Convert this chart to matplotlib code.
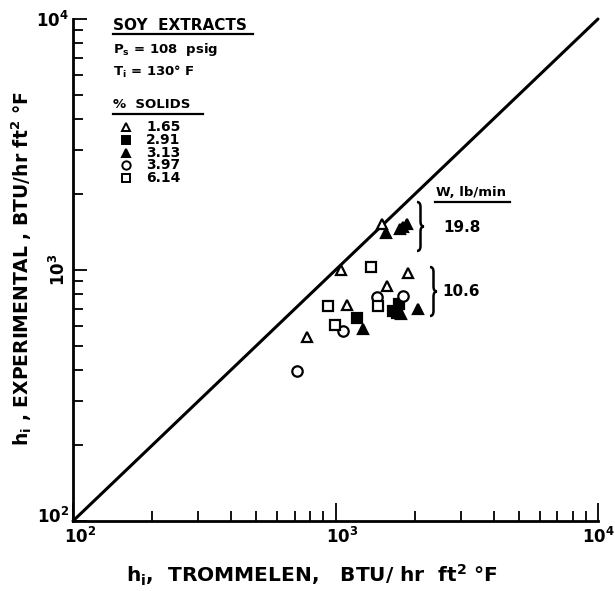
import matplotlib
matplotlib.use("Agg")
import matplotlib.pyplot as plt
import matplotlib.transforms as mtransforms
from matplotlib.path import Path
from matplotlib.patches import PathPatch

# % solids series (x = Trommelen, y = experimental)
solids_labels = ['1.65', '2.91', '3.13', '3.97', '6.14']
markers = ['^', 's', '^', 'o', 's']
filled = [False, True, True, False, False]

x_165 = [1500, 1761, 1046, 1894, 1567, 1104, 777]
y_165 = [1525, 1453, 1000, 976, 861, 725, 539]
x_291 = [1746, 1661, 1710, 1211]
y_291 = [732, 688, 672, 642]
x_313 = [1557, 1800, 1870, 1777, 2067, 1276]
y_313 = [1400, 1490, 1520, 668, 697, 580]
x_397 = [1445, 1808, 1071, 711]
y_397 = [780, 789, 571, 397]
x_614 = [1366, 1448, 939, 996]
y_614 = [1031, 719, 719, 604]

series_x = [x_165, x_291, x_313, x_397, x_614]
series_y = [y_165, y_291, y_313, y_397, y_614]

flow_labels = ['19.8', '10.6']

plt.rcParams['font.family'] = ['DejaVu Sans']
plt.rcParams['font.weight'] = 'bold'
plt.rcParams['mathtext.fontset'] = 'custom'
plt.rcParams['mathtext.rm'] = 'DejaVu Sans:bold'
plt.rcParams['mathtext.it'] = 'DejaVu Sans:bold'
plt.rcParams['mathtext.bf'] = 'DejaVu Sans:bold'
plt.rcParams['mathtext.default'] = 'rm'

W, H = 615, 591
fig = plt.figure(figsize=(W / 100, H / 100), dpi=100)
L, R, T, B = 73, 598, 19, 521
ax = fig.add_axes([L / W, (H - B) / H, (R - L) / W, (B - T) / H])


def af(px, py):
    """ pixel position -> axes fraction """
    return (px - L) / (R - L), (B - py) / (B - T)


ax.set_xscale('log')
ax.set_yscale('log')
ax.set_xlim(100, 10000)
ax.set_ylim(100, 10000)

# 45 degree line
ax.plot([100, 10000], [100, 10000], color='black', lw=2.2, solid_capstyle='round', clip_on=False)

for xs, ys, m, f in zip(series_x, series_y, markers, filled):
    ax.plot(xs, ys, linestyle='none', marker=m, markersize=7.5,
            markerfacecolor='black' if f else 'white',
            markeredgecolor='black', markeredgewidth=1.6)

for s in ['top', 'right']:
    ax.spines[s].set_visible(False)
for s in ['left', 'bottom']:
    ax.spines[s].set_linewidth(2)

ax.set_xticks([100, 1000, 10000])
ax.set_xticklabels([r'$10^2$', r'$10^3$', r'$10^4$'], fontsize=12)
ax.set_yticks([100, 1000, 10000])
ax.set_yticklabels([r'$10^2$', r'$10^3$', r'$10^4$'], fontsize=12)
ax.yaxis.get_ticklabels()[1].set_rotation(90)
ax.yaxis.get_ticklabels()[1].set_va('center')
ax.xaxis.set_minor_formatter(plt.NullFormatter())
ax.yaxis.set_minor_formatter(plt.NullFormatter())
ax.tick_params(axis='x', which='major', direction='in', length=13, width=1.3, pad=4)
ax.tick_params(axis='y', which='major', direction='in', length=10, width=1.3, pad=3)
ax.tick_params(which='minor', direction='in', length=7, width=1.3)

# nudge tick labels away from the corner like the original lettering
shift_x = mtransforms.ScaledTranslation(7 / 100, 0, fig.dpi_scale_trans)
for lab in ax.xaxis.get_ticklabels()[:2]:
    lab.set_transform(lab.get_transform() + shift_x)
ylab0 = ax.yaxis.get_ticklabels()[0]
ylab0.set_transform(ylab0.get_transform() + mtransforms.ScaledTranslation(0, 6 / 100, fig.dpi_scale_trans))

fig.text(312 / W, 1 - 575 / H, r'h$_{\mathregular{i}}$,  TROMMELEN,   BTU/ hr  ft$^2$ °F',
         ha='center', va='center', fontsize=14.5)
fig.text(22 / W, 1 - 268 / H, r'h$_{\mathregular{i}}$ , EXPERIMENTAL , BTU/hr ft$^2$ °F',
         ha='center', va='center', rotation=90, fontsize=13.5)

# legend block
tkw = dict(transform=ax.transAxes, ha='left', va='center')
ax.text(*af(113, 25), 'SOY  EXTRACTS', fontsize=11, **tkw)
ax.plot(*zip(af(113, 34), af(253, 34)), transform=ax.transAxes, color='black', lw=1.6)
ax.text(*af(113, 50), r'P$_{\mathregular{s}}$ = 108  psig', fontsize=9.5, **tkw)
ax.text(*af(113, 72), r'T$_{\mathregular{i}}$ = 130° F', fontsize=9.5, **tkw)
ax.text(*af(113, 105), '%  SOLIDS', fontsize=9.5, **tkw)
ax.plot(*zip(af(113, 114), af(203, 114)), transform=ax.transAxes, color='black', lw=1.6)

for i, (lab, m, f) in enumerate(zip(solids_labels, markers, filled)):
    py = 127 + 12.8 * i
    ax.plot(*af(126, py), marker=m, markersize=6, transform=ax.transAxes,
            markerfacecolor='black' if f else 'white', markeredgecolor='black',
            markeredgewidth=1.4, clip_on=False)
    ax.text(*af(146, py), lab, fontsize=10, **tkw)

# flow rate annotation
ax.text(*af(436, 192), 'W, lb/min', fontsize=9.5, **tkw)
ax.plot(*zip(af(435, 202), af(510, 202)), transform=ax.transAxes, color='black', lw=1.6)


def brace(px, py0, py1, w=7, d=5):
    ym = (py0 + py1) / 2
    pts = [(px, py0), (px + w / 2, py0), (px + w / 2, py0 + d),
           (px + w / 2, ym - d),
           (px + w / 2, ym), (px + w, ym),
           (px + w / 2, ym), (px + w / 2, ym + d),
           (px + w / 2, py1 - d),
           (px + w / 2, py1), (px, py1)]
    codes = [Path.MOVETO, Path.CURVE3, Path.CURVE3, Path.LINETO,
             Path.CURVE3, Path.CURVE3, Path.CURVE3, Path.CURVE3,
             Path.LINETO, Path.CURVE3, Path.CURVE3]
    verts = [af(x, y) for x, y in pts]
    ax.add_patch(PathPatch(Path(verts, codes), transform=ax.transAxes,
                           fill=False, lw=1.8, edgecolor='black', clip_on=False))


brace(417, 202, 251)
brace(430, 267, 316)
ax.text(*af(443, 227), flow_labels[0], fontsize=11, **tkw)
ax.text(*af(442, 292), flow_labels[1], fontsize=11, **tkw)

fig.savefig('out.png', dpi=100)
